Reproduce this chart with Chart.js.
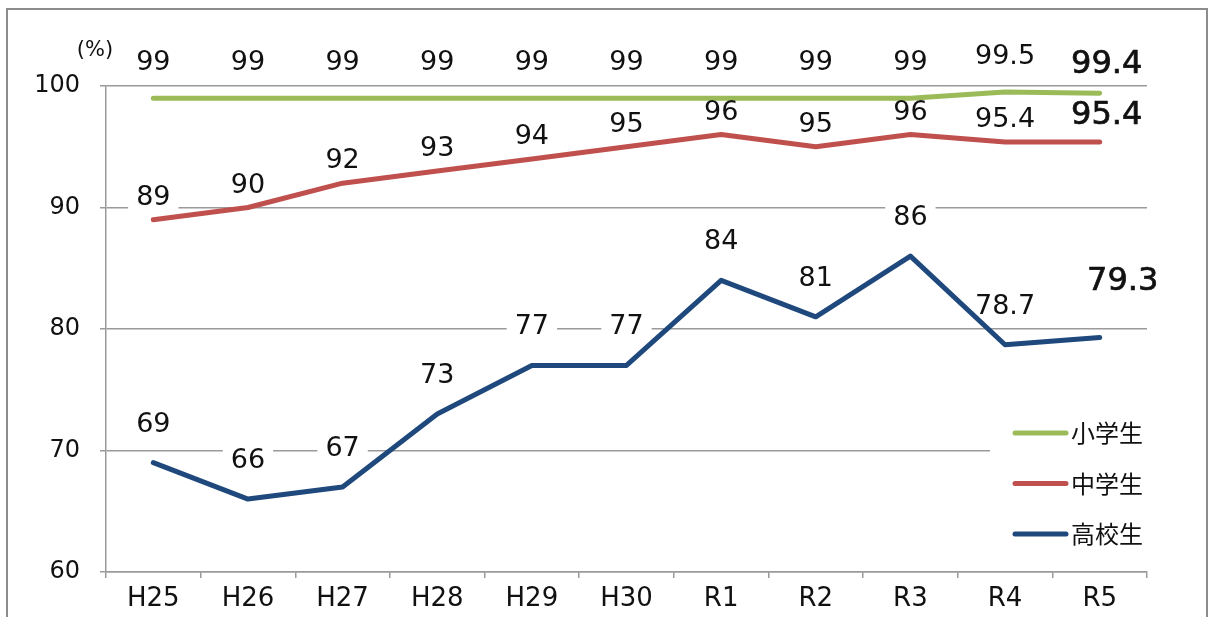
<!DOCTYPE html>
<html>
<head>
<meta charset="utf-8">
<script src="https://cdn.jsdelivr.net/npm/chart.js@4/dist/chart.umd.min.js"></script>
<style>
  html, body { margin: 0; padding: 0; background: #fff; overflow: hidden; }
  #frame { position: absolute; left: 6px; top: 8px; width: 1198px; height: 700px; border: 2px solid #8c8c8c; }
  #chart { position: absolute; left: 0; top: 0; }
</style>
</head>
<body>
<div id="frame"></div>
<canvas id="chart" width="1208" height="617"></canvas>
<script>
// ── data ────────────────────────────────────────────
const years = ['H25', 'H26', 'H27', 'H28', 'H29', 'H30', 'R1', 'R2', 'R3', 'R4', 'R5'];
const seriesNames = ['小学生', '中学生', '高校生'];
const elementary = [99, 99, 99, 99, 99, 99, 99, 99, 99, 99.5, 99.4];
const juniorHigh = [89, 90, 92, 93, 94, 95, 96, 95, 96, 95.4, 95.4];
const highSchool = [69, 66, 67, 73, 77, 77, 84, 81, 86, 78.7, 79.3];
const yTicks = [60, 70, 80, 90, 100];

const FONT = '"DejaVu Sans", sans-serif';
const GRID = '#9a9a9a';

// where each value label sits, relative to its point
function labelSpot(chart, ds, pt, j) {
  const last = j === ds.data.length - 1;
  const dx = last ? ds.lastShift[0] : 0;
  const dy = last ? ds.lastShift[1] : ds.labelLift;
  return { x: pt.x + dx, y: pt.y - dy, last, txt: String(ds.data[j]) };
}

// value labels: white box under the lines (hides gridlines only), text on top
const valueLabels = {
  id: 'valueLabels',
  beforeDatasetsDraw(chart) {
    const ctx = chart.ctx;
    ctx.save();
    ctx.fillStyle = '#fff';
    chart.data.datasets.forEach((ds, i) => {
      chart.getDatasetMeta(i).data.forEach((pt, j) => {
        const s = labelSpot(chart, ds, pt, j);
        ctx.font = (s.last ? '32px ' : '27px ') + FONT;
        const w = ctx.measureText(s.txt).width;
        ctx.fillRect(s.x - w / 2 - 8, s.y - 14, w + 16, 28);
      });
    });
    // legend backdrop
    ctx.fillRect(990, 408, 170, 150);
    ctx.restore();
  },
  afterDatasetsDraw(chart) {
    const ctx = chart.ctx;
    chart.data.datasets.forEach((ds, i) => {
      chart.getDatasetMeta(i).data.forEach((pt, j) => {
        const s = labelSpot(chart, ds, pt, j);
        ctx.save();
        ctx.font = (s.last ? '32px ' : '27px ') + FONT;
        ctx.fillStyle = '#111';
        ctx.textAlign = 'center';
        ctx.textBaseline = 'middle';
        ctx.fillText(s.txt, s.x, s.y);
        if (s.last) { ctx.strokeStyle = '#111'; ctx.lineWidth = 0.7; ctx.strokeText(s.txt, s.x, s.y); }
        ctx.restore();
      });
    });
  }
};

// legend inside the plot + unit label
const extras = {
  id: 'extras',
  afterDraw(chart) {
    const ctx = chart.ctx;
    ctx.save();
    chart.data.datasets.forEach((ds, i) => {
      const y = 433 + i * 50.5;
      ctx.strokeStyle = ds.borderColor;
      ctx.lineWidth = 5;
      ctx.lineCap = 'round';
      ctx.beginPath();
      ctx.moveTo(1015, y);
      ctx.lineTo(1066, y);
      ctx.stroke();
      ctx.fillStyle = '#111';
      ctx.font = '24px "Noto Sans CJK JP", sans-serif';
      ctx.textBaseline = 'middle';
      ctx.fillText(ds.label, 1071, y);
    });
    ctx.font = '21px ' + FONT;
    ctx.fillStyle = '#111';
    ctx.textAlign = 'center';
    ctx.textBaseline = 'middle';
    ctx.fillText('(%)', 95, 51);
    ctx.restore();
  }
};

const lineStyle = { borderWidth: 5, pointRadius: 0, tension: 0, borderCapStyle: 'round', borderJoinStyle: 'round', fill: false };

new Chart(document.getElementById('chart'), {
  type: 'line',
  data: {
    labels: years,
    datasets: [
      { label: seriesNames[0], data: elementary, borderColor: '#9bbb59', labelLift: 35, lastShift: [7, 29], ...lineStyle },
      { label: seriesNames[1], data: juniorHigh, borderColor: '#c0504d', labelLift: 22, lastShift: [7, 26], ...lineStyle },
      { label: seriesNames[2], data: highSchool, borderColor: '#1f497d', labelLift: 38, lastShift: [23, 56], ...lineStyle }
    ]
  },
  options: {
    responsive: false,
    animation: false,
    layout: { padding: { top: 86, right: 61, bottom: 0, left: 0 } },
    plugins: { legend: { display: false }, tooltip: { enabled: false } },
    scales: {
      x: {
        offset: true,
        grid: { offset: true, drawOnChartArea: false, tickLength: 6, color: GRID, lineWidth: 1.5 },
        border: { display: true, color: GRID, width: 1.5 },
        ticks: { color: '#111', padding: 6, font: { family: FONT, size: 26 }, maxRotation: 0 },
        afterFit(scale) { scale.height = 45; }
      },
      y: {
        min: yTicks[0],
        max: yTicks[yTicks.length - 1],
        afterBuildTicks(scale) { scale.ticks = yTicks.map(v => ({ value: v })); },
        grid: { color: GRID, lineWidth: 1.5, tickLength: 6 },
        border: { display: true, color: GRID, width: 1.5 },
        ticks: { color: '#111', padding: 20, font: { family: FONT, size: 24 } },
        afterFit(scale) { scale.width = 106; }
      }
    }
  },
  plugins: [valueLabels, extras]
});
</script>
</body>
</html>
